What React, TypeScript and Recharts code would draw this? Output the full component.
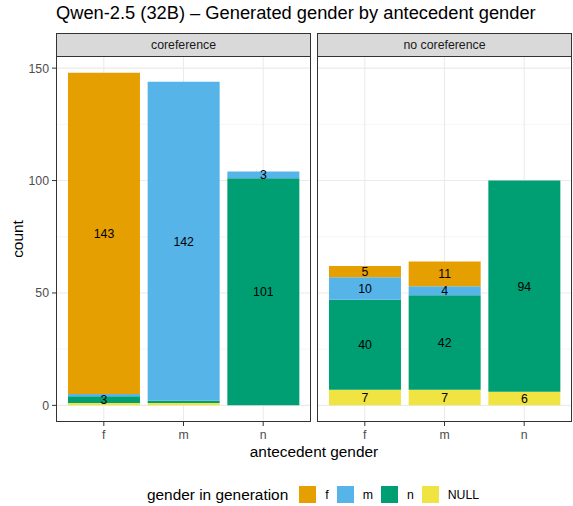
import React from 'react';
import { BarChart, Bar, XAxis, YAxis, CartesianGrid, LabelList } from 'recharts';

// antecedent gender (x categories)
const categories = ['f', 'm', 'n'];
// facets
const facets = ['coreference', 'no coreference'];

// counts per generated gender, one value per antecedent category
const corefNull = [1, 1, 0];
const corefN = [3, 1, 101];
const corefM = [1, 142, 3];
const corefF = [143, 0, 0];

const noCorefNull = [7, 7, 6];
const noCorefN = [40, 42, 94];
const noCorefM = [10, 4, 0];
const noCorefF = [5, 11, 0];

// legend order + palette (okabe-ito)
const seriesKeys = ['f', 'm', 'n', 'NULL'];
const seriesColors: Record<string, string> = {
  f: '#E69F00',
  m: '#56B4E9',
  n: '#009E73',
  NULL: '#F0E442',
};
// stacked bottom -> top
const stackOrder = ['NULL', 'n', 'm', 'f'];

const yTicks = [0, 50, 100, 150];
const yMinor = [25, 75, 125];
const yDomain = [-7.4, 155.4];

const buildRows = (nul: number[], n: number[], m: number[], f: number[]) =>
  categories.map((cat, i) => ({ pos: i + 1, cat, NULL: nul[i], n: n[i], m: m[i], f: f[i] }));

const panelData = [
  buildRows(corefNull, corefN, corefM, corefF),
  buildRows(noCorefNull, noCorefN, noCorefM, noCorefF),
];

const FONT = '"Liberation Sans", Arial, Helvetica, sans-serif';
const PANEL_TOP = 56;
const PANEL_H = 366;
const PANEL_W = 255;
const Y_AXIS_W = 56;
const panelLefts = [56, 317];
const SMALL = 12.3;
const MID = 15.4;

function Panel({ idx }: { idx: number }) {
  const showY = idx === 0;
  const width = showY ? Y_AXIS_W + PANEL_W : PANEL_W;
  return (
    <div style={{ position: 'absolute', left: showY ? 0 : panelLefts[idx], top: PANEL_TOP }}>
      <BarChart
        width={width}
        height={PANEL_H + 24}
        data={panelData[idx]}
        margin={{ top: 0, right: 0, bottom: 0, left: 0 }}
      >
        <CartesianGrid stroke="#EBEBEB" strokeWidth={0.5} vertical={false} horizontalValues={yMinor} />
        <CartesianGrid stroke="#EBEBEB" strokeWidth={1.1} horizontalValues={yTicks} verticalValues={[1, 2, 3]} />
        <XAxis
          type="number"
          dataKey="pos"
          domain={[0.4, 3.6]}
          ticks={[1, 2, 3]}
          allowDataOverflow
          height={24}
          axisLine={false}
          tickSize={4}
          tickMargin={4}
          tickLine={{ stroke: '#333333' }}
          tick={{ fill: '#4D4D4D', fontSize: SMALL, fontFamily: FONT }}
          tickFormatter={(v: number) => categories[v - 1]}
        />
        <YAxis
          hide={!showY}
          width={showY ? Y_AXIS_W : 0}
          domain={yDomain}
          ticks={yTicks}
          allowDataOverflow
          axisLine={false}
          tickSize={4}
          tickMargin={3}
          tickLine={{ stroke: '#333333' }}
          tick={{ fill: '#4D4D4D', fontSize: SMALL, fontFamily: FONT }}
        />
        {stackOrder.map((key) => (
          <Bar key={key} dataKey={key} stackId="a" fill={seriesColors[key]} barSize={72} isAnimationActive={false}>
            <LabelList
              dataKey={key}
              position="center"
              fill="#000000"
              fontSize={SMALL}
              fontFamily={FONT}
              formatter={(v: number) => (v >= 3 ? v : '')}
            />
          </Bar>
        ))}
      </BarChart>
    </div>
  );
}

export default function App() {
  return (
    <div
      style={{
        position: 'absolute',
        left: 0,
        top: 0,
        width: 573,
        height: 506,
        background: '#FFFFFF',
        fontFamily: FONT,
        overflow: 'hidden',
      }}
    >
      <div style={{ position: 'absolute', left: 56, top: 2, fontSize: 18.3, color: '#000', whiteSpace: 'nowrap' }}>
        Qwen-2.5 (32B) – Generated gender by antecedent gender
      </div>

      {facets.map((name, i) => (
        <div
          key={name}
          style={{
            position: 'absolute',
            left: panelLefts[i],
            top: 33,
            width: PANEL_W,
            height: 24,
            boxSizing: 'border-box',
            background: '#D9D9D9',
            border: '1px solid #333333',
            fontSize: SMALL,
            color: '#1A1A1A',
            display: 'flex',
            alignItems: 'center',
            justifyContent: 'center',
          }}
        >
          {name}
        </div>
      ))}

      <Panel idx={0} />
      <Panel idx={1} />

      {facets.map((name, i) => (
        <div
          key={name + '-border'}
          style={{
            position: 'absolute',
            left: panelLefts[i],
            top: PANEL_TOP,
            width: PANEL_W,
            height: PANEL_H,
            boxSizing: 'border-box',
            border: '1px solid #333333',
            pointerEvents: 'none',
          }}
        />
      ))}

      <div
        style={{
          position: 'absolute',
          left: 18,
          top: PANEL_TOP + PANEL_H / 2,
          transform: 'translate(-50%, -50%) rotate(-90deg)',
          fontSize: MID,
          color: '#000',
          whiteSpace: 'nowrap',
        }}
      >
        count
      </div>

      <div
        style={{
          position: 'absolute',
          left: 56,
          width: 516,
          top: 443,
          textAlign: 'center',
          fontSize: MID,
          color: '#000',
        }}
      >
        antecedent gender
      </div>

      <div
        style={{
          position: 'absolute',
          left: 147,
          top: 486,
          height: 17,
          display: 'flex',
          alignItems: 'center',
          fontSize: SMALL,
          color: '#000',
          whiteSpace: 'nowrap',
        }}
      >
        <span style={{ fontSize: MID, marginRight: 11 }}>gender in generation</span>
        {seriesKeys.map((k) => (
          <span key={k} style={{ display: 'flex', alignItems: 'center', marginRight: 8 }}>
            <span
              style={{
                display: 'inline-block',
                width: 17,
                height: 17,
                background: seriesColors[k],
                marginRight: 9,
              }}
            />
            <span>{k}</span>
          </span>
        ))}
      </div>
    </div>
  );
}
